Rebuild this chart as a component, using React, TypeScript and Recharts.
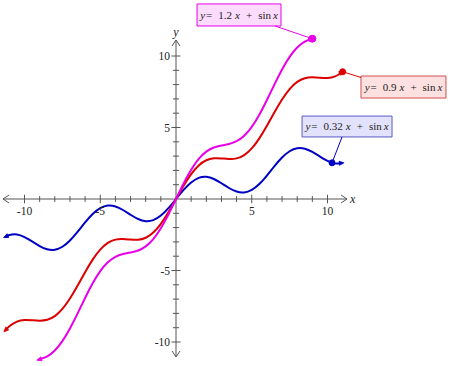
import React from 'react';
import { LineChart, Line, XAxis, YAxis, ReferenceLine, ReferenceDot, ReferenceArea } from 'recharts';

// ---- data ----
const xWide = [-11.3, -11, -10.5, -10, -9.5, -9, -8.5, -8, -7.5, -7, -6.5, -6, -5.5, -5, -4.5, -4, -3.5, -3, -2.5, -2, -1.5, -1, -0.5, 0, 0.5, 1, 1.5, 2, 2.5, 3, 3.5, 4, 4.5, 5, 5.5, 6, 6.5, 7, 7.5, 8, 8.5, 9, 9.5, 10, 10.5, 11];
const yBlue = [-2.66, -2.52, -2.48, -2.66, -2.97, -3.29, -3.52, -3.55, -3.34, -2.9, -2.3, -1.64, -1.05, -0.64, -0.46, -0.52, -0.77, -1.1, -1.4, -1.55, -1.48, -1.16, -0.64, 0, 0.64, 1.16, 1.48, 1.55, 1.4, 1.1, 0.77, 0.52, 0.46, 0.64, 1.05, 1.64, 2.3, 2.9, 3.34, 3.55, 3.52, 3.29, 2.97, 2.66, 2.48, 2.52];
const yRed = [-9.22, -8.9, -8.57, -8.46, -8.48, -8.51, -8.45, -8.19, -7.69, -6.96, -6.07, -5.12, -4.24, -3.54, -3.07, -2.84, -2.8, -2.84, -2.85, -2.71, -2.35, -1.74, -0.93, 0, 0.93, 1.74, 2.35, 2.71, 2.85, 2.84, 2.8, 2.84, 3.07, 3.54, 4.24, 5.12, 6.07, 6.96, 7.69, 8.19, 8.45, 8.51, 8.48, 8.46, 8.57, 8.9];
const xMag = [-9.1, -9, -8.5, -8, -7.5, -7, -6.5, -6, -5.5, -5, -4.5, -4, -3.5, -3, -2.5, -2, -1.5, -1, -0.5, 0, 0.5, 1, 1.5, 2, 2.5, 3, 3.5, 4, 4.5, 5, 5.5, 6, 6.5, 7, 7.5, 8, 8.5, 9];
const yMag = [-11.24, -11.21, -11.0, -10.59, -9.94, -9.06, -8.02, -6.92, -5.89, -5.04, -4.42, -4.04, -3.85, -3.74, -3.6, -3.31, -2.8, -2.04, -1.08, 0, 1.08, 2.04, 2.8, 3.31, 3.6, 3.74, 3.85, 4.04, 4.42, 5.04, 5.89, 6.92, 8.02, 9.06, 9.94, 10.59, 11.0, 11.21];

const xTicks = [-10, -9, -8, -7, -6, -5, -4, -3, -2, -1, 1, 2, 3, 4, 5, 6, 7, 8, 9, 10];
const yTicks = [-10, -9, -8, -7, -6, -5, -4, -3, -2, -1, 1, 2, 3, 4, 5, 6, 7, 8, 9, 10];
const xTickLabelValues = [-10, -5, 5, 10];
const xTickLabels = ['-10', '-5', '5', '10'];
const yTickLabelValues = [10, 5, -5, -10];
const yTickLabels = ['10', '5', '-5', '-10'];

// callouts: [box x1, x2, y1, y2], point marked on curve, leader line start
const magBox = [1.39, 6.93, 12.1, 13.64];
const redBox = [12.21, 17.82, 7.06, 8.6];
const blueBox = [8.32, 14.26, 4.34, 5.8];
const magPoint = { x: 9, y: 11.21 };
const redPoint = { x: 11, y: 8.9 };
const bluePoint = { x: 10.3, y: 2.53 };
const magLeader = { x: 6.53, y: 12.1 };
const redLeader = { x: 12.21, y: 8.5 };
const blueLeader = { x: 10.96, y: 4.34 };
const magCoef = '1.2';
const redCoef = '0.9';
const blueCoef = '0.32';

const blueData = xWide.map((x, i) => ({ x, y: yBlue[i] }));
const redData = xWide.map((x, i) => ({ x, y: yRed[i] }));
const magData = xMag.map((x, i) => ({ x, y: yMag[i] }));

const MAGENTA = '#e800e8';
const RED = '#dc0000';
const BLUE = '#0000c4';
const AXIS = '#555555';
const FONT = '"Liberation Serif", "Times New Roman", serif';
const KX = 15.15;
const KY = 14.3;

const endArrow = (data: { x: number; y: number }[], color: string) => (props: any) => {
  const { cx, cy, index } = props;
  const last = data.length - 1;
  if ((index !== 0 && index !== last) || cx == null || cy == null) {
    return <g key={`d-${index}`} />;
  }
  const j = index === 0 ? 1 : last - 1;
  const dx = (data[index].x - data[j].x) * KX;
  const dy = -(data[index].y - data[j].y) * KY;
  const ang = (Math.atan2(dy, dx) * 180) / Math.PI;
  return (
    <path
      key={`d-${index}`}
      transform={`translate(${cx},${cy}) rotate(${ang})`}
      d="M1.5,0 L-3.5,-2.2 L-3.5,2.2 Z"
      fill={color}
      stroke={color}
      strokeWidth={0.5}
    />
  );
};

const calloutLabel = (coef: string) => (props: any) => {
  const vb = props.viewBox || {};
  const cx = vb.x + vb.width / 2;
  const cy = vb.y + vb.height / 2;
  return (
    <text x={cx} y={cy + 4} textAnchor="middle" fontFamily={FONT} fontSize={11} fill="#222">
      <tspan fontStyle="italic">y</tspan>
      <tspan dx={1}>=</tspan>
      <tspan dx={6}>{coef}</tspan>
      <tspan dx={3} fontStyle="italic">x</tspan>
      <tspan dx={6}>+</tspan>
      <tspan dx={6}>sin</tspan>
      <tspan dx={2} fontStyle="italic">x</tspan>
    </text>
  );
};

const seg = (x1: number, y1: number, x2: number, y2: number, key: string, color = AXIS, w = 1) => (
  <ReferenceLine
    key={key}
    segment={[{ x: x1, y: y1 }, { x: x2, y: y2 }]}
    stroke={color}
    strokeWidth={w}
    ifOverflow="visible"
  />
);

export default function App() {
  const axisEls: React.ReactNode[] = [];
  axisEls.push(seg(-11.42, 0, 11.29, 0, 'xa'));
  axisEls.push(seg(0, -11.05, 0, 11.12, 'ya'));
  axisEls.push(seg(-11.42, 0, -11.02, 0.28, 'xl1'));
  axisEls.push(seg(-11.42, 0, -11.02, -0.28, 'xl2'));
  axisEls.push(seg(11.29, 0, 10.89, 0.28, 'xr1'));
  axisEls.push(seg(11.29, 0, 10.89, -0.28, 'xr2'));
  axisEls.push(seg(0, 11.12, 0.26, 10.7, 'yt1'));
  axisEls.push(seg(0, 11.12, -0.26, 10.7, 'yt2'));
  axisEls.push(seg(0, -11.05, 0.26, -10.63, 'yb1'));
  axisEls.push(seg(0, -11.05, -0.26, -10.63, 'yb2'));
  xTicks.forEach((t) => {
    const h = t % 5 === 0 ? 0.3 : 0.2;
    axisEls.push(seg(t, -h, t, h, `xt${t}`));
  });
  yTicks.forEach((t) => {
    const h = t % 5 === 0 ? 0.3 : 0.2;
    axisEls.push(seg(-h, t, h, t, `yt${t}`));
  });

  return (
    <div style={{ position: 'absolute', left: 0, top: 0, width: 450, height: 366, background: '#ffffff' }}>
      <LineChart
        width={450}
        height={366}
        margin={{ top: 0.23, right: 1.3, bottom: 2.55, left: 1.78 }}
        style={{ fontFamily: FONT }}
      >
        <XAxis type="number" dataKey="x" domain={[-11.5, 18]} allowDataOverflow hide />
        <YAxis type="number" dataKey="y" domain={[-11.5, 13.9]} allowDataOverflow hide width={0} />
        {axisEls}
        {xTickLabelValues.map((v, i) => (
          <ReferenceDot
            key={`xl${v}`}
            x={v}
            y={0}
            r={0}
            fill="none"
            stroke="none"
            label={{ value: xTickLabels[i], position: 'bottom', offset: 8, fontSize: 11.5, fill: '#222', fontFamily: FONT }}
          />
        ))}
        {yTickLabelValues.map((v, i) => (
          <ReferenceDot
            key={`yl${v}`}
            x={0}
            y={v}
            r={0}
            fill="none"
            stroke="none"
            label={{ value: yTickLabels[i], position: 'left', offset: 6, fontSize: 11.5, fill: '#222', fontFamily: FONT }}
          />
        ))}
        <ReferenceDot
          x={11.29}
          y={0}
          r={0}
          fill="none"
          stroke="none"
          label={{ value: 'x', position: 'right', offset: 3, fontSize: 12, fill: '#222', fontStyle: 'italic', fontFamily: FONT }}
        />
        <ReferenceDot
          x={0}
          y={11.12}
          r={0}
          fill="none"
          stroke="none"
          label={{ value: 'y', position: 'top', offset: 4, fontSize: 12, fill: '#222', fontStyle: 'italic', fontFamily: FONT }}
        />

        <Line data={blueData} dataKey="y" type="natural" stroke={BLUE} strokeWidth={2} dot={endArrow(blueData, BLUE)} activeDot={false} isAnimationActive={false} />
        <Line data={redData} dataKey="y" type="natural" stroke={RED} strokeWidth={2} dot={endArrow(redData, RED)} activeDot={false} isAnimationActive={false} />
        <Line data={magData} dataKey="y" type="natural" stroke={MAGENTA} strokeWidth={2} dot={endArrow(magData, MAGENTA)} activeDot={false} isAnimationActive={false} />

        {seg(magLeader.x, magLeader.y, magPoint.x, magPoint.y, 'ml', MAGENTA, 1)}
        {seg(redPoint.x, redPoint.y, redLeader.x, redLeader.y, 'rl', RED, 1)}
        {seg(blueLeader.x, blueLeader.y, bluePoint.x, bluePoint.y, 'bl', BLUE, 1)}
        <ReferenceDot x={magPoint.x} y={magPoint.y} r={3.5} fill={MAGENTA} stroke={MAGENTA} />
        <ReferenceDot x={redPoint.x} y={redPoint.y} r={3} fill={RED} stroke={RED} />
        <ReferenceDot x={bluePoint.x} y={bluePoint.y} r={3} fill={BLUE} stroke={BLUE} />

        <ReferenceArea x1={magBox[0]} x2={magBox[1]} y1={magBox[2]} y2={magBox[3]} fill="#fcdcfc" fillOpacity={1} stroke={MAGENTA} strokeWidth={1} ifOverflow="visible" label={calloutLabel(magCoef)} />
        <ReferenceArea x1={redBox[0]} x2={redBox[1]} y1={redBox[2]} y2={redBox[3]} fill="#fde0e0" fillOpacity={1} stroke="#d05050" strokeWidth={1} ifOverflow="visible" label={calloutLabel(redCoef)} />
        <ReferenceArea x1={blueBox[0]} x2={blueBox[1]} y1={blueBox[2]} y2={blueBox[3]} fill="#e2e2fc" fillOpacity={1} stroke="#5a5ac8" strokeWidth={1} ifOverflow="visible" label={calloutLabel(blueCoef)} />
      </LineChart>
    </div>
  );
}
